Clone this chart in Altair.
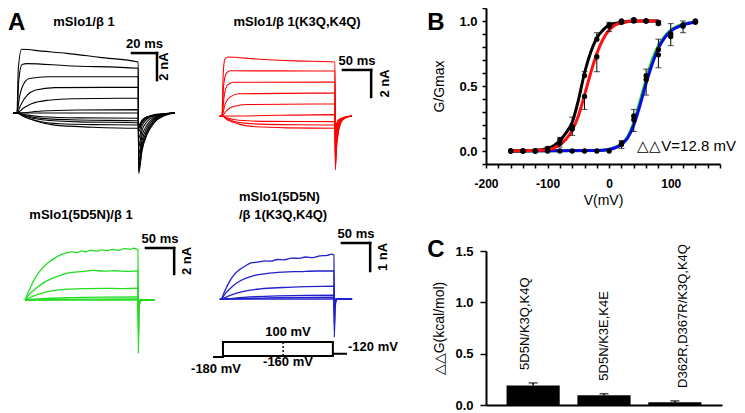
import altair as alt
import pandas as pd

W, H = 729, 405

# ---------------- Panel A: current traces, points are (time ms, current nA) ----------------
BLACK_TRACES = [
    [(-3, 0), (0, 0), (1, 3.2), (3.7, 4.72), (20, 4.58), (40, 4.42), (66, 4.12), (97, 3.78), (97.3, -4.5), (100, -2.8), (104, -1.6), (110, -0.7), (118, -0.2), (126, 0)],
    [(-3, 0), (0, 0), (1.5, 2.5), (4, 3.6), (8, 3.66), (40, 3.5), (97, 3.31), (97.3, -4.3), (100, -2.6), (104, -1.45), (110, -0.6), (118, -0.15), (126, 0)],
    [(-3, 0), (0, 0), (2, 1.2), (5, 2.1), (10, 2.55), (25, 2.68), (97, 2.69), (97.3, -4.0), (100, -2.35), (104, -1.3), (110, -0.5), (118, -0.12), (126, 0)],
    [(-3, 0), (0, 0), (3, 0.6), (8, 1.3), (15, 1.7), (30, 1.88), (97, 1.9), (97.3, -3.6), (100, -2.05), (104, -1.1), (110, -0.42), (118, -0.1), (126, 0)],
    [(-3, 0), (0, 0), (5, 0.35), (12, 0.7), (25, 0.95), (45, 1.06), (97, 1.09), (97.3, -3.1), (100, -1.7), (104, -0.9), (110, -0.33), (118, -0.08), (126, 0)],
    [(-3, 0), (0, 0), (20, 0.15), (50, 0.22), (97, 0.25), (97.3, -2.5), (100, -1.3), (104, -0.65), (110, -0.25), (118, -0.06), (126, 0)],
    [(-3, 0), (0, 0), (97, 0), (97.3, -1.9), (100, -0.95), (104, -0.45), (110, -0.18), (126, 0)],
    [(-3, 0), (0, 0), (6, -0.12), (20, -0.28), (50, -0.36), (97, -0.39), (97.3, -1.4), (100, -0.7), (104, -0.35), (110, -0.12), (126, 0)],
    [(-3, 0), (0, 0), (6, -0.18), (20, -0.4), (50, -0.52), (97, -0.57), (97.3, -1.1), (100, -0.6), (104, -0.3), (126, 0)],
    [(-3, 0), (0, 0), (6, -0.22), (20, -0.5), (50, -0.66), (97, -0.72), (97.3, -0.9), (100, -0.55), (104, -0.28), (126, 0)],
    [(-3, 0), (0, 0), (5, -0.25), (15, -0.55), (35, -0.8), (60, -0.86), (97, -0.89), (97.3, -0.95), (100, -0.6), (104, -0.3), (126, 0)],
    [(-3, 0), (0, 0), (5, -0.25), (15, -0.6), (30, -0.9), (60, -1.05), (97, -1.13), (97.3, -1.1), (100, -0.7), (104, -0.35), (126, 0)],
]

RED_TRACES = [
    [(-4, 0), (0, 0), (2, 3.0), (5, 4.2), (10, 4.37), (60, 4.22), (130, 4.08), (200, 4.0), (200.5, -4.0), (203, -2.2), (206, -1.2), (210, -0.55), (216, -0.2), (230, 0)],
    [(-4, 0), (0, 0), (3, 2.3), (8, 3.2), (15, 3.35), (100, 3.34), (200, 3.33), (200.5, -3.7), (203, -2.0), (206, -1.05), (210, -0.48), (216, -0.16), (230, 0)],
    [(-4, 0), (0, 0), (4, 1.5), (10, 2.3), (20, 2.5), (200, 2.52), (200.5, -3.4), (203, -1.8), (206, -0.95), (210, -0.42), (216, -0.14), (230, 0)],
    [(-4, 0), (0, 0), (5, 0.8), (14, 1.4), (30, 1.65), (200, 1.7), (200.5, -3.0), (203, -1.55), (206, -0.8), (210, -0.35), (216, -0.12), (230, 0)],
    [(-4, 0), (0, 0), (8, 0.4), (20, 0.7), (45, 0.85), (200, 0.89), (200.5, -2.5), (203, -1.3), (206, -0.65), (210, -0.28), (216, -0.1), (230, 0)],
    [(-4, 0), (0, 0), (200, 0.1), (200.5, -1.9), (203, -0.95), (206, -0.45), (210, -0.2), (230, 0)],
    [(-4, 0), (0, 0), (10, -0.15), (30, -0.32), (80, -0.4), (200, -0.42), (200.5, -1.4), (203, -0.7), (206, -0.35), (230, 0)],
    [(-4, 0), (0, 0), (10, -0.22), (30, -0.48), (80, -0.62), (200, -0.67), (200.5, -1.1), (203, -0.6), (206, -0.3), (230, 0)],
    [(-4, 0), (0, 0), (10, -0.3), (30, -0.6), (60, -0.8), (120, -0.88), (200, -0.91), (200.5, -1.0), (203, -0.6), (206, -0.3), (230, 0)],
]

GREEN_TRACES = [
    [(0, 0), (5, 0.5), (10, 1.0), (18, 1.7), (26, 2.2), (32, 2.5), (42, 2.9), (52, 3.2), (62, 3.45), (74, 3.62), (84, 3.7), (92, 3.64), (100, 3.78), (108, 3.7), (116, 3.84), (126, 3.76), (136, 3.85), (146, 3.8), (156, 3.9), (166, 3.82), (176, 3.95), (186, 3.9), (192, 3.98), (200, 3.85), (200.6, -4.1), (202, -0.7), (204, -0.1), (207, 0), (230, 0)],
    [(0, 0), (8, 0.45), (18, 0.85), (32, 1.3), (45, 1.6), (60, 1.85), (74, 2.05), (90, 2.15), (105, 2.2), (120, 2.28), (140, 2.22), (160, 2.25), (180, 2.2), (200, 2.23), (200.6, -3.0), (202, -0.5), (204, -0.08), (207, 0), (230, 0)],
    [(0, 0), (12, 0.25), (32, 0.55), (50, 0.72), (70, 0.82), (100, 0.87), (140, 0.9), (170, 0.88), (200, 0.92), (200.6, -2.0), (202, -0.3), (205, 0), (230, 0)],
    [(0, 0), (30, 0.1), (80, 0.18), (140, 0.22), (200, 0.23), (200.6, -1.2), (202, -0.2), (205, 0), (230, 0)],
    [(0, 0), (100, 0.06), (200, 0.08), (200.6, -0.8), (202, -0.1), (205, 0), (230, 0)],
    [(0, 0), (200, 0), (200.6, -0.5), (202, -0.05), (205, 0), (230, 0)],
]

BLUE_TRACES = [
    [(-2, 0), (0, 0), (6, 0.25), (13, 0.55), (23, 0.86), (33, 1.05), (43, 1.18), (53, 1.29), (65, 1.32), (78, 1.36), (88, 1.35), (100, 1.41), (112, 1.4), (125, 1.46), (138, 1.45), (150, 1.5), (162, 1.48), (175, 1.54), (188, 1.56), (195, 1.6), (200, 1.57), (200.5, -1.36), (202, -0.3), (204, -0.05), (206, 0), (232, 0)],
    [(-2, 0), (0, 0), (8, 0.2), (20, 0.45), (35, 0.66), (55, 0.82), (80, 0.91), (110, 0.96), (140, 0.98), (170, 1.0), (200, 1.0), (200.5, -1.1), (202, -0.2), (205, 0), (232, 0)],
    [(-2, 0), (0, 0), (15, 0.12), (40, 0.27), (70, 0.36), (110, 0.41), (150, 0.44), (200, 0.46), (200.5, -0.8), (202, -0.12), (205, 0), (232, 0)],
    [(-2, 0), (0, 0), (40, 0.06), (100, 0.11), (200, 0.14), (200.5, -0.5), (202, -0.05), (205, 0), (232, 0)],
    [(-2, 0), (0, 0), (100, 0.05), (200, 0.07), (200.5, -0.35), (203, 0), (232, 0)],
    [(-2, 0), (0, 0), (200, 0), (200.5, -0.25), (203, 0), (232, 0)],
]

# scale bars: [t start, t end, I top, I bottom]
BLACK_BAR = [92, 112, 4.44, 2.44]
RED_BAR = [214, 264, 3.41, 1.41]
GREEN_BAR = [214, 264, 4.0, 2.0]
BLUE_BAR = [214, 264, 2.0, 1.0]

# voltage protocol (ms, mV)
PROTOCOL_PATHS = [
    [(-14, -180), (3.5, -180), (3.5, 100), (198, 100), (198, -120), (223, -120)],
    [(3.5, -160), (198, -160), (198, -120)],
]
PROTOCOL_DOTTED = [(110, -160), (110, 100)]

# ---------------- Panel B: G-V ----------------
V_BLACK = [-160, -140, -120, -100, -80, -60, -40, -20, 0, 20, 40, 60, 80]
G_BLACK = [0.0, 0.0, 0.0, 0.02, 0.085, 0.19, 0.58, 0.86, 0.97, 0.99, 1.01, 1.0, 0.99]
E_BLACK = [0.0, 0.0, 0.0, 0.01, 0.02, 0.07, 0.03, 0.05, 0.02, 0.01, 0.01, 0.01, 0.01]
V_RED = [-160, -140, -120, -100, -80, -60, -40, -20, 0, 20, 40, 60, 80]
G_RED = [0.0, 0.0, 0.0, 0.01, 0.06, 0.17, 0.42, 0.725, 0.96, 1.0, 1.0, 1.0, 0.98]
E_RED = [0.0, 0.0, 0.0, 0.01, 0.03, 0.05, 0.1, 0.115, 0.04, 0.02, 0.01, 0.01, 0.01]
V_BLUE = [-160, -140, -120, -100, -80, -60, -40, -20, 0, 20, 40, 60, 80, 100, 120, 140]
G_BLUE = [0, 0, 0, 0, 0, 0, 0, 0, 0, 0.05, 0.24, 0.55, 0.74, 0.88, 0.96, 1.0]
E_BLUE = [0, 0, 0, 0, 0, 0, 0, 0, 0, 0.03, 0.09, 0.12, 0.1, 0.07, 0.05, 0.01]
V_GREEN = [20, 40, 60, 80, 100, 120, 140]
G_GREEN = [0.06, 0.27, 0.58, 0.78, 0.9, 0.97, 0.99]
E_GREEN = [0.02, 0.05, 0.05, 0.08, 0.08, 0.03, 0.01]

FIT_BLACK_V = [-160, -120, -100, -90, -80, -70, -60, -50, -40, -30, -20, -10, 0, 20, 40, 80]
FIT_BLACK_G = [0, 0.005, 0.02, 0.04, 0.08, 0.14, 0.22, 0.39, 0.6, 0.76, 0.87, 0.93, 0.97, 0.99, 1.0, 1.0]
FIT_RED_V = [-160, -100, -80, -70, -60, -50, -40, -30, -20, -10, 0, 10, 20, 40, 80]
FIT_RED_G = [0, 0.01, 0.05, 0.09, 0.16, 0.27, 0.43, 0.6, 0.75, 0.86, 0.93, 0.97, 0.985, 1.0, 1.0]
FIT_BLUE_V = [-160, -20, 0, 10, 20, 30, 40, 50, 60, 70, 80, 90, 100, 120, 140]
FIT_BLUE_G = [0, 0.003, 0.012, 0.025, 0.05, 0.1, 0.2, 0.35, 0.52, 0.67, 0.79, 0.87, 0.92, 0.97, 0.99]
FIT_GREEN_V = [-160, -20, 0, 10, 20, 30, 40, 50, 60, 70, 80, 90, 100, 120, 140]
FIT_GREEN_G = [0, 0.003, 0.013, 0.028, 0.056, 0.11, 0.22, 0.38, 0.55, 0.7, 0.81, 0.88, 0.93, 0.975, 0.99]

B_X_TICKS = [-200, -180, -160, -140, -120, -100, -80, -60, -40, -20, 0, 20, 40, 60, 80, 100, 120, 140, 160, 180]
B_Y_TICKS = [-0.1, 0.0, 0.1, 0.2, 0.3, 0.4, 0.5, 0.6, 0.7, 0.8, 0.9, 1.0, 1.1]

# ---------------- Panel C: bar chart ----------------
C_LABELS = ["5D5N/K3Q,K4Q", "5D5N/K3E,K4E", "D362R,D367R/K3Q,K4Q"]
C_VALUES = [0.19, 0.095, 0.026]
C_ERRORS = [0.025, 0.015, 0.014]
C_Y_TICKS = [0.0, 0.5, 1.0, 1.5]


def traces_df(traces):
    rows = []
    for k, tr in enumerate(traces):
        for i, (t, cur) in enumerate(tr):
            rows.append({"trace": k, "idx": i, "t": t, "I": cur})
    return pd.DataFrame(rows)


def qscale(dom, rng):
    return alt.Scale(domain=dom, range=rng, nice=False, zero=False)


def label(text, x, y, size=13, weight="bold", align="center", baseline="middle", angle=0):
    return alt.Chart(pd.DataFrame({"s": [text]})).mark_text(
        fontSize=size, fontWeight=weight, align=align, baseline=baseline, angle=angle, color="black"
    ).encode(x=alt.value(x), y=alt.value(y), text="s:N")


def trace_layers(traces, color, sw, tdom, trng, idom, irng, bar, tlab, ilab, ilab_dy):
    X = lambda f: alt.X(f + ":Q", scale=qscale(tdom, trng), axis=None)
    Y = lambda f: alt.Y(f + ":Q", scale=qscale(idom, irng), axis=None)
    df = traces_df(traces)
    lines = alt.Chart(df).mark_line(color=color, strokeWidth=sw, interpolate="monotone").encode(
        x=X("t"), y=Y("I"), detail="trace:N", order="idx:Q")
    bdf = pd.DataFrame({"t1": [bar[0]], "t2": [bar[1]], "i1": [bar[2]], "i2": [bar[3]],
                        "tl": [tlab], "il": [ilab]})
    bdf["tm"] = (bdf["t1"] + bdf["t2"]) / 2
    bdf["im"] = (bdf["i1"] + bdf["i2"]) / 2
    hbar = alt.Chart(bdf).mark_rule(color="black", strokeWidth=2.5, strokeCap="square").encode(
        x=X("t1"), x2="t2:Q", y=Y("i1"))
    vbar = alt.Chart(bdf).mark_rule(color="black", strokeWidth=2.5, strokeCap="square").encode(
        x=X("t2"), y=Y("i1"), y2="i2:Q")
    htxt = alt.Chart(bdf).mark_text(fontSize=13, fontWeight="bold", baseline="alphabetic", dy=-5,
                                    color="black").encode(x=X("tm"), y=Y("i1"), text="tl:N")
    vtxt = alt.Chart(bdf).mark_text(fontSize=13, fontWeight="bold", angle=270, baseline="top",
                                    dy=ilab_dy, color="black").encode(x=X("t2"), y=Y("im"), text="il:N")
    return [lines, hbar, vbar, htxt, vtxt]


layers = []

# ---- A ----
layers += trace_layers(BLACK_TRACES, "#000000", 1.1, [0, 100], [9, 134], [0, 4], [105, 51],
                       BLACK_BAR, "20 ms", "2 nA", 1)
layers += trace_layers(RED_TRACES, "#ff0000", 1.1, [0, 200], [214, 327], [0, 4], [108, 54],
                       RED_BAR, "50 ms", "2 nA", 8)
layers += trace_layers(GREEN_TRACES, "#22dd22", 1.3, [0, 200], [17, 130], [0, 4], [292, 240],
                       GREEN_BAR, "50 ms", "2 nA", 7)
layers += trace_layers(BLUE_TRACES, "#2020cc", 1.3, [0, 200], [213, 326], [0, 2], [291, 235],
                       BLUE_BAR, "50 ms", "1 nA", 7)

# protocol
prow = []
for k, path in enumerate(PROTOCOL_PATHS):
    for i, (t, v) in enumerate(path):
        prow.append({"seg": k, "idx": i, "t": t, "V": v})
pdf = pd.DataFrame(prow)
ddf = pd.DataFrame({"idx": [0, 1], "t": [p[0] for p in PROTOCOL_DOTTED], "V": [p[1] for p in PROTOCOL_DOTTED]})
PX = lambda: alt.X("t:Q", scale=qscale([0, 200], [213, 326]), axis=None)
PY = lambda: alt.Y("V:Q", scale=qscale([-160, 100], [348, 334]), axis=None)
layers.append(alt.Chart(pdf).mark_line(color="black", strokeWidth=2).encode(
    x=PX(), y=PY(), detail="seg:N", order="idx:Q"))
layers.append(alt.Chart(ddf).mark_line(color="black", strokeWidth=1.5, strokeDash=[2, 2]).encode(
    x=PX(), y=PY(), order="idx:Q"))

layers += [
    label("100 mV", 280, 324),
    label("-180 mV", 208, 361),
    label("-160 mV", 280, 354),
    label("-120 mV", 340, 339, align="left"),
]

# titles & panel letters for A
layers += [
    label("A", 0, 3, size=24, align="left", baseline="top"),
    label("mSlo1/β 1", 76, 13.7),
    label("mSlo1/β 1(K3Q,K4Q)", 289, 13.7),
    label("mSlo1(5D5N)/β 1", 73, 207),
    label("mSlo1(5D5N)", 231, 189, align="left"),
    label("/β 1(K3Q,K4Q)", 231, 207, align="left"),
]

# ---- B ----
BXD, BXR = [-200, 180], [478, 712]
BYD, BYR = [-0.1, 1.1], [156, 0]
AX_BX = alt.Axis(values=B_X_TICKS, orient="bottom", offset=156 - H,
                 labelExpr="datum.value % 100 === 0 ? (datum.value < 0 ? '-' + abs(datum.value) : '' + datum.value) : ''",
                 title="V(mV)", domainColor="black", domainWidth=2, tickColor="black", tickWidth=1.5,
                 tickSize=4, labelFontSize=12, labelFontWeight="bold", labelColor="black", labelPadding=10,
                 labelFlush=False, labelOverlap=False, titleFontSize=14, titleFontWeight="normal",
                 titleColor="black", titlePadding=4, grid=False)
AX_BY = alt.Axis(values=B_Y_TICKS, orient="left", offset=-478,
                 labelExpr="(abs(datum.value) < 0.001 || abs(datum.value - 0.5) < 0.001 || abs(datum.value - 1) < 0.001) ? format(datum.value, '.1f') : ''",
                 title="G/Gmax", domainColor="black", domainWidth=2, tickColor="black", tickWidth=1.5,
                 tickSize=4, labelFontSize=13, labelFontWeight="bold", labelColor="black", labelPadding=5,
                 labelOverlap=False, titleFontSize=14, titleFontWeight="normal", titleColor="black",
                 titlePadding=12, grid=False)


def bx(f, axis=None):
    return alt.X(f + ":Q", scale=qscale(BXD, BXR), axis=axis)


def by(f, axis=None):
    return alt.Y(f + ":Q", scale=qscale(BYD, BYR), axis=axis)


fits = [
    (FIT_GREEN_V, FIT_GREEN_G, "#22cc22"),
    (FIT_BLUE_V, FIT_BLUE_G, "#0a0ae6"),
    (FIT_BLACK_V, FIT_BLACK_G, "#000000"),
    (FIT_RED_V, FIT_RED_G, "#ff1010"),
]
for n, (fv, fg, col) in enumerate(fits):
    fdf = pd.DataFrame({"V": fv, "G": fg})
    if n == 0:
        enc = dict(x=bx("V", AX_BX), y=by("G", AX_BY))
    else:
        enc = dict(x=bx("V"), y=by("G"))
    layers.append(alt.Chart(fdf).mark_line(color=col, strokeWidth=3, interpolate="monotone").encode(**enc))

erows = []
for vs, gs, es, sign in [(V_BLACK, G_BLACK, E_BLACK, 1), (V_RED, G_RED, E_RED, -1),
                         (V_BLUE, G_BLUE, E_BLUE, -1), (V_GREEN, G_GREEN, E_GREEN, 1)]:
    for v, g, e in zip(vs, gs, es):
        if e > 0:
            erows.append({"V": v, "G": g, "Gend": g + sign * e})
edf = pd.DataFrame(erows)
layers.append(alt.Chart(edf).mark_rule(color="black", strokeWidth=1).encode(x=bx("V"), y=by("G"), y2="Gend:Q"))
layers.append(alt.Chart(edf).mark_tick(color="black", orient="horizontal", size=6, thickness=1).encode(
    x=bx("V"), y=by("Gend")))

pts = pd.DataFrame({"V": V_BLACK + V_RED + V_BLUE + V_GREEN, "G": G_BLACK + G_RED + G_BLUE + G_GREEN})
layers.append(alt.Chart(pts).mark_circle(color="black", size=28, opacity=1).encode(x=bx("V"), y=by("G")))

layers += [
    label("B", 428, 3, size=24, baseline="top"),
    label("△△V=12.8 mV", 728, 137.5, size=15, weight="normal", align="right"),
]

# ---- C ----
cdf = pd.DataFrame({"label": C_LABELS, "value": C_VALUES, "err": C_ERRORS})
cdf["hi"] = cdf["value"] + cdf["err"]
C_ZERO = 397
CYD, CYR = [0, 1.5], [C_ZERO, 243]
AX_CX = alt.Axis(orient="bottom", offset=C_ZERO - H, labels=False, ticks=False, title=None,
                 domainColor="black", domainWidth=2, grid=False)
AX_CY = alt.Axis(values=C_Y_TICKS, orient="left", offset=-478, format=".1f", title="△△G(kcal/mol)",
                 domainColor="black", domainWidth=2, tickColor="black", tickWidth=1.5, tickSize=6,
                 labelFontSize=13, labelFontWeight="bold", labelColor="black", labelPadding=7,
                 titleFontSize=14, titleFontWeight="normal", titleColor="black", titlePadding=8, grid=False)


def cx(axis=None):
    return alt.X("label:N", sort=C_LABELS,
                 scale=alt.Scale(domain=C_LABELS, range=[478, 714], paddingInner=0.25, paddingOuter=0.29),
                 axis=axis)


def cy(f, axis=None):
    return alt.Y(f + ":Q", scale=qscale(CYD, CYR), axis=axis)


layers.append(alt.Chart(cdf).mark_bar(color="black").encode(x=cx(AX_CX), y=cy("value", AX_CY)))
layers.append(alt.Chart(cdf).mark_rule(color="black", strokeWidth=1.5).encode(x=cx(), y=cy("value"), y2="hi:Q"))
layers.append(alt.Chart(cdf).mark_tick(color="black", size=9, thickness=1.5).encode(x=cx(), y=cy("hi")))
layers.append(alt.Chart(cdf).mark_text(angle=270, align="left", baseline="middle", dx=13, fontSize=13,
                                       color="black").encode(x=cx(), y=cy("hi"), text="label:N"))
layers.append(label("C", 428, 249, size=24, baseline="alphabetic"))

chart = alt.layer(*layers).resolve_scale(x="independent", y="independent").properties(
    width=W, height=H, autosize=alt.AutoSizeParams(type="none"), padding=0
).configure(font="Liberation Sans").configure_view(stroke=None)

chart.save("out.html", embed_options={"renderer": "svg", "actions": False})
